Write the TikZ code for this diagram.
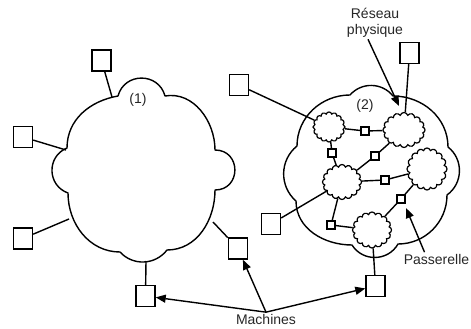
\documentclass[tikz,border=0pt]{standalone}
\usepackage{fontspec}
\setmainfont{Liberation Sans}
\usetikzlibrary{shapes.symbols,arrows.meta}
\begin{document}
\begin{tikzpicture}[x=1pt,y=-1pt,
  ln/.style={line width=1.4pt,line join=round},
  machine/.style={draw,line width=1.4pt,minimum width=19pt,minimum height=21pt,inner sep=0pt},
  gate/.style={draw,line width=1.1pt,minimum size=8pt,inner sep=0pt,fill=white},
  net/.style={cloud,draw,line width=1.2pt,cloud puffs=16,cloud puff arc=150,inner sep=0pt,fill=white},
  lbl/.style={font=\fontsize{14}{16}\selectfont,inner sep=1.5pt,align=center,text=black!85},
  arr/.style={line width=1.4pt,-{Triangle[length=10pt,width=8pt]}}
]
\useasboundingbox (0,0) rectangle (471,329);

% big cloud (1)
\draw[ln] (118,96) to[bend left=75,looseness=1.35] (165,96)
  to[out=10,in=90] (215,150)
  to[bend left=90,looseness=1.7] (215,190)
  to[out=270,in=0] (167,250)
  to[bend left=50,looseness=1.04] (120,252)
  to[out=180,in=270] (68,193)
  to[bend left=69,looseness=1.26] (67,148)
  to[out=90,in=190] (118,96) -- cycle;

% big cloud (2)
\draw[ln] (350,95) to[bend left=50,looseness=1.04] (393,96)
  to[out=0,in=90] (448,147)
  to[bend left=53,looseness=1.06] (447,195)
  to[out=270,in=0] (398,244)
  to[bend left=59,looseness=1.12] (352,245)
  to[out=180,in=270] (296,201)
  to[bend left=50,looseness=1.04] (297,146)
  to[out=90,in=180] (350,95) -- cycle;

% contact points on cloud (1)
\coordinate (c1a) at (112,97);
\coordinate (c1b) at (66,150);
\coordinate (c1c) at (69,219);
\coordinate (c1d) at (146,261);
\coordinate (c1e) at (213,222);

% machines
\node[machine] (S1) at (101.5,60.5) {};
\node[machine] (S2) at (23,137) {};
\node[machine] (S3) at (23,238.5) {};
\node[machine] (S4) at (145.5,296) {};
\node[machine] (S5) at (238,248.5) {};
\node[machine] (S6) at (239,85) {};
\node[machine] (S7) at (409.5,53) {};
\node[machine] (S8) at (271,224) {};
\node[machine] (S9) at (375.5,286) {};

% small networks
\node[net,minimum width=32pt,minimum height=30pt] (A) at (329,127) {};
\node[net,minimum width=42pt,minimum height=35pt] (B) at (404,130) {};
\node[net,minimum width=39pt,minimum height=35pt] (C) at (342,182) {};
\node[net,minimum width=40pt,minimum height=42pt] (D) at (427,169) {};
\node[net,minimum width=39pt,minimum height=36pt] (E) at (372,230) {};

% gateways
\node[gate] (g1) at (365,131) {};
\node[gate] (g2) at (332,153) {};
\node[gate] (g3) at (375,156) {};
\node[gate] (g4) at (385,180) {};
\node[gate] (g5) at (401,199) {};
\node[gate] (g6) at (331,225) {};

% links cloud 1
\draw[ln] (S1) -- (c1a);
\draw[ln] (S2) -- (c1b);
\draw[ln] (S3) -- (c1c);
\draw[ln] (S4) -- (c1d);
\draw[ln] (S5) -- (c1e);

% links cloud 2
\draw[ln] (S6) -- (A);
\draw[ln] (S7) -- (B);
\draw[ln] (S8) -- (C);
\draw[ln] (S9) -- (E);
\draw[ln] (A) -- (g1) -- (B);
\draw[ln] (A) -- (g2) -- (C);
\draw[ln] (C) -- (g3) -- (B);
\draw[ln] (C) -- (g4) -- (D);
\draw[ln] (D) -- (g5) -- (E);
\draw[ln] (C) -- (g6) -- (E);

% labels
\node[lbl] (n1) at (138,100) {(1)};
\node[lbl] (n2) at (365,106) {(2)};
\node[lbl] (res) at (375,23) {Réseau\\physique};
\node[lbl] (pas) at (436.5,259) {Passerelle};
\node[lbl] (mach) at (266,319) {Machines};

\coordinate (resTip) at (399,106);
\coordinate (pasTip) at (406,208);
\draw[arr] ([xshift=-7pt]res.south) -- (resTip);
\draw[arr] ([xshift=-12pt]pas.north) -- (pasTip);
\draw[arr] (mach.north) -- (S4);
\draw[arr] (mach.north) -- (S5);
\draw[arr] (mach.north) -- (S9);
\end{tikzpicture}
\end{document}
